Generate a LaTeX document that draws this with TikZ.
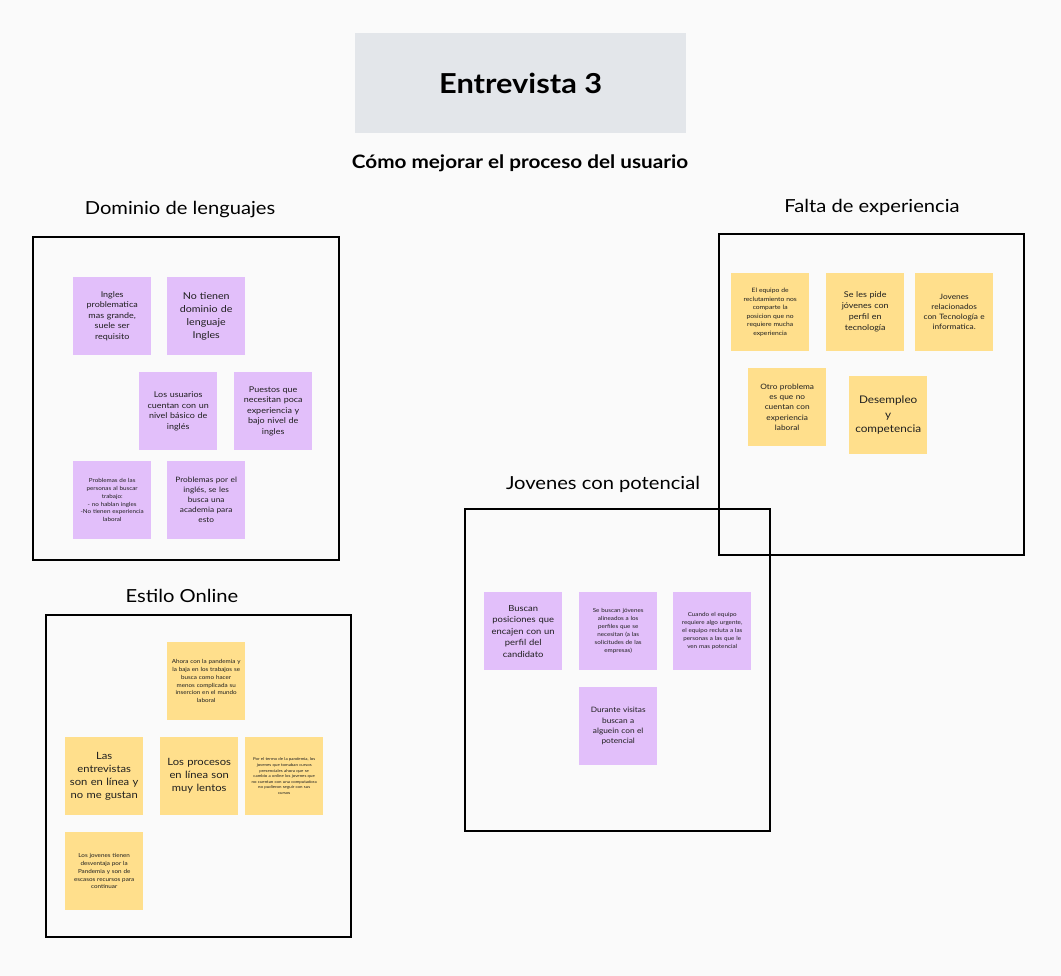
\documentclass[tikz,border=0pt]{standalone}
\usepackage{fontspec}
\setmainfont{Lato}[FakeStretch=1.12]
\definecolor{bg}{HTML}{FAFAFA}
\definecolor{titlegray}{HTML}{E3E6EA}
\definecolor{lila}{HTML}{E2BFFA}
\definecolor{amarillo}{HTML}{FFDF8C}
\definecolor{tinta}{HTML}{1F1F1F}
\tikzset{
  frame/.style={draw=black, line width=2.3pt},
  notebase/.style={minimum width=78pt, minimum height=78pt, inner sep=0pt, align=center, text width=74pt, anchor=north west, text=tinta},
  pnote/.style={notebase, fill=lila},
  ynote/.style={notebase, fill=amarillo},
  fs/.style 2 args={font=\fontsize{#1}{#2}\selectfont},
  grouplabel/.style={font=\fontsize{18}{22}\selectfont, text=black},
}
\begin{document}
\begin{tikzpicture}[x=1pt,y=-1pt]
\fill[bg] (0,0) rectangle (1061,976);
\useasboundingbox (0,0) rectangle (1061,976);

% title
\node[fill=titlegray, minimum width=331pt, minimum height=100pt, anchor=north west, inner sep=0pt,
  font=\fontsize{27.5}{32}\selectfont\bfseries] (title) at (355,33) {Entrevista 3};
\node[font=\fontsize{18.5}{22}\selectfont\bfseries] (sub) at (520,163) {Cómo mejorar el proceso del usuario};

% group 1
\node[grouplabel] (l1) at (180,210) {Dominio de lenguajes};
\draw[frame] (33,237) rectangle (339,560);
\node[pnote, fs={8}{10.5}] (a1) at (73,277) {Ingles\\problematica\\mas grande,\\suele ser\\requisito};
\node[pnote, fs={9.5}{13}] (a2) at (167,277) {No tienen\\dominio de\\lenguaje\\Ingles};
\node[pnote, fs={8}{10.5}] (a3) at (139,372) {Los usuarios\\cuentan con un\\nivel básico de\\inglés};
\node[pnote, fs={8}{10.5}] (a4) at (234,372) {Puestos que\\necesitan poca\\experiencia y\\bajo nivel de\\ingles};
\node[pnote, fs={5.6}{7.8}] (a5) at (73,461) {Problemas de las\\personas al buscar\\trabajo:\\- no hablan ingles\\-No tienen experiencia\\laboral};
\node[pnote, fs={7.4}{10}] (a6) at (167,461) {Problemas por el\\inglés, se les\\busca una\\academia para\\esto};

% group 2
\node[grouplabel] (l2) at (872,207) {Falta de experiencia};
\draw[frame] (719,234) rectangle (1024,555);
\node[ynote, fs={6}{8.5}] (b1) at (731,273) {El equipo de\\reclutamiento nos\\comparte la\\posicion que no\\requiere mucha\\experiencia};
\node[ynote, fs={8}{11}] (b2) at (826,273) {Se les pide\\jóvenes con\\perfil en\\tecnología};
\node[ynote, fs={7.4}{10}] (b3) at (915,273) {Jovenes\\relacionados\\con Tecnología e\\informatica.};
\node[ynote, fs={7.4}{10.2}] (b4) at (748,368) {Otro problema\\es que no\\cuentan con\\experiencia\\laboral};
\node[ynote, fs={10.5}{14.5}] (b5) at (849,376) {Desempleo\\y\\competencia};

% group 3
\node[grouplabel] (l3) at (603,484) {Jovenes con potencial};
\draw[frame] (465,509) rectangle (770,831);
\node[pnote, fs={8.4}{11.5}] (c1) at (484,592) {Buscan\\posiciones que\\encajen con un\\perfil del\\candidato};
\node[pnote, fs={5.6}{8}] (c2) at (579,592) {Se buscan jóvenes\\alineados a los\\perfiles que se\\necesitan (a las\\solicitudes de las\\empresas)};
\node[pnote, fs={5.6}{8}] (c3) at (673,592) {Cuando el equipo\\requiere algo urgente,\\el equipo recluta a las\\personas a las que le\\ven mas potencial};
\node[pnote, fs={7.4}{10.4}] (c4) at (579,687) {Durante visitas\\buscan a\\alguein con el\\potencial};

% group 4
\node[grouplabel] (l4) at (182,596) {Estilo Online};
\draw[frame] (46,615) rectangle (351,937);
\node[ynote, fs={5.6}{7.8}] (d1) at (167,642) {Ahora con la pandemia y\\la baja en los trabajos se\\busca como hacer\\menos complicada su\\insercion en el mundo\\laboral};
\node[ynote, fs={10}{13}] (d2) at (65,737) {Las\\entrevistas\\son en línea y\\no me gustan};
\node[ynote, fs={10}{13}] (d3) at (160,737) {Los procesos\\en línea son\\muy lentos};
\node[ynote, fs={3.9}{5.6}] (d4) at (245,737) {Por el termo de la pandemia, los\\jovenes que tomaban cursos\\presenciales ahora que se\\cambio a online los jovenes que\\no cuentan con una computadora\\no pudieron seguir con sus\\cursos};
\node[ynote, fs={5.6}{7.8}] (d5) at (65,832) {Los jovenes tienen\\desventaja por la\\Pandemia y son de\\escasos recursos para\\continuar};
\end{tikzpicture}
\end{document}
